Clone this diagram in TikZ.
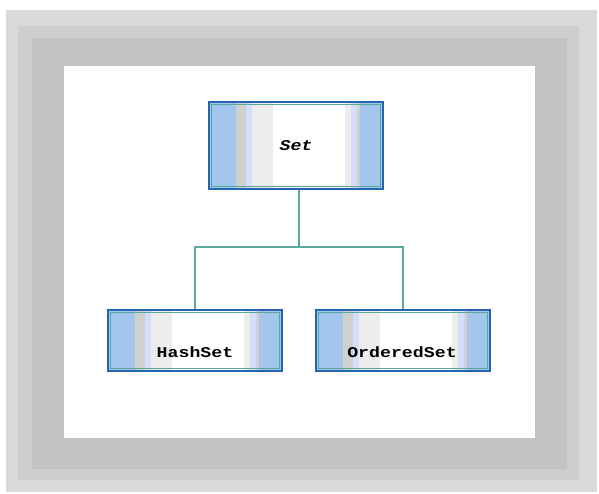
\documentclass[tikz,border=0pt]{standalone}
\usepackage{fontspec}
\newfontfamily\boxfont[FakeStretch=1.22]{Liberation Mono}
\definecolor{frameA}{HTML}{D9D9D9}
\definecolor{frameB}{HTML}{CECECE}
\definecolor{frameC}{HTML}{C3C3C3}
\definecolor{lblue}{HTML}{A3C6EE}
\definecolor{sgray}{HTML}{D0D0D0}
\definecolor{slav}{HTML}{D6DCFB}
\definecolor{soff}{HTML}{ECECEC}
\definecolor{steal}{HTML}{5AA89C}
\definecolor{dblue}{HTML}{2565B0}
\tikzset{
  classbox/.style={draw=dblue, line width=1.6bp, minimum width=174bp, inner sep=0pt, fill=none},
  classtext/.style={font=\boxfont\fontsize{15}{15}\selectfont\bfseries, inner sep=0pt},
  conn/.style={draw=steal, line width=1.3bp}
}
% #1 left, #2 top, #3 right, #4 bottom
\newcommand\stripefill[4]{%
  \fill[lblue] (#1,#2) rectangle (#3,#4);
  \foreach \a/\b/\c in {0.155/0.213/sgray, 0.213/0.247/slav, 0.247/0.368/soff, 0.368/0.782/white, 0.782/0.816/soff, 0.816/0.851/slav, 0.851/0.868/sgray}{
    \fill[\c] ({#1+\a*(#3-#1)},#2) rectangle ({#1+\b*(#3-#1)},#4);
  }
  \draw[steal, line width=1.2bp] ({#1+2.6},{#2+2.6}) rectangle ({#3-2.6},{#4-2.6});
}
\begin{document}
\begin{tikzpicture}[x=1bp, y=-1bp]
\useasboundingbox (0,0) rectangle (599,494);
\fill[white] (0,0) rectangle (599,494);
% frame
\fill[frameA] (6,10) rectangle (597,492);
\fill[frameB] (18,26) rectangle (579,480);
\fill[frameC] (32,38) rectangle (567,469);
\fill[white] (64,66) rectangle (535,438);
% boxes
\stripefill{209}{102}{383}{189}
\stripefill{108}{310}{282}{371}
\stripefill{316}{310}{490}{371}
\node[classbox, minimum height=87bp] (set) at (296,145.5) {};
\node[classbox, minimum height=61bp] (hash) at (195,340.5) {};
\node[classbox, minimum height=61bp] (ord) at (403,340.5) {};
\node[classtext, font=\boxfont\fontsize{15}{15}\selectfont\bfseries\itshape] (settxt) at (296,146) {Set};
\node[classtext] (hashtxt) at (195,352) {HashSet};
\node[classtext] (ordtxt) at (402,352) {OrderedSet};
% connectors
\coordinate (j) at (299,247);
\draw[conn] (set.south -| j) -- (j);
\draw[conn] (hash.north) |- (j) -| (ord.north);
\end{tikzpicture}
\end{document}
